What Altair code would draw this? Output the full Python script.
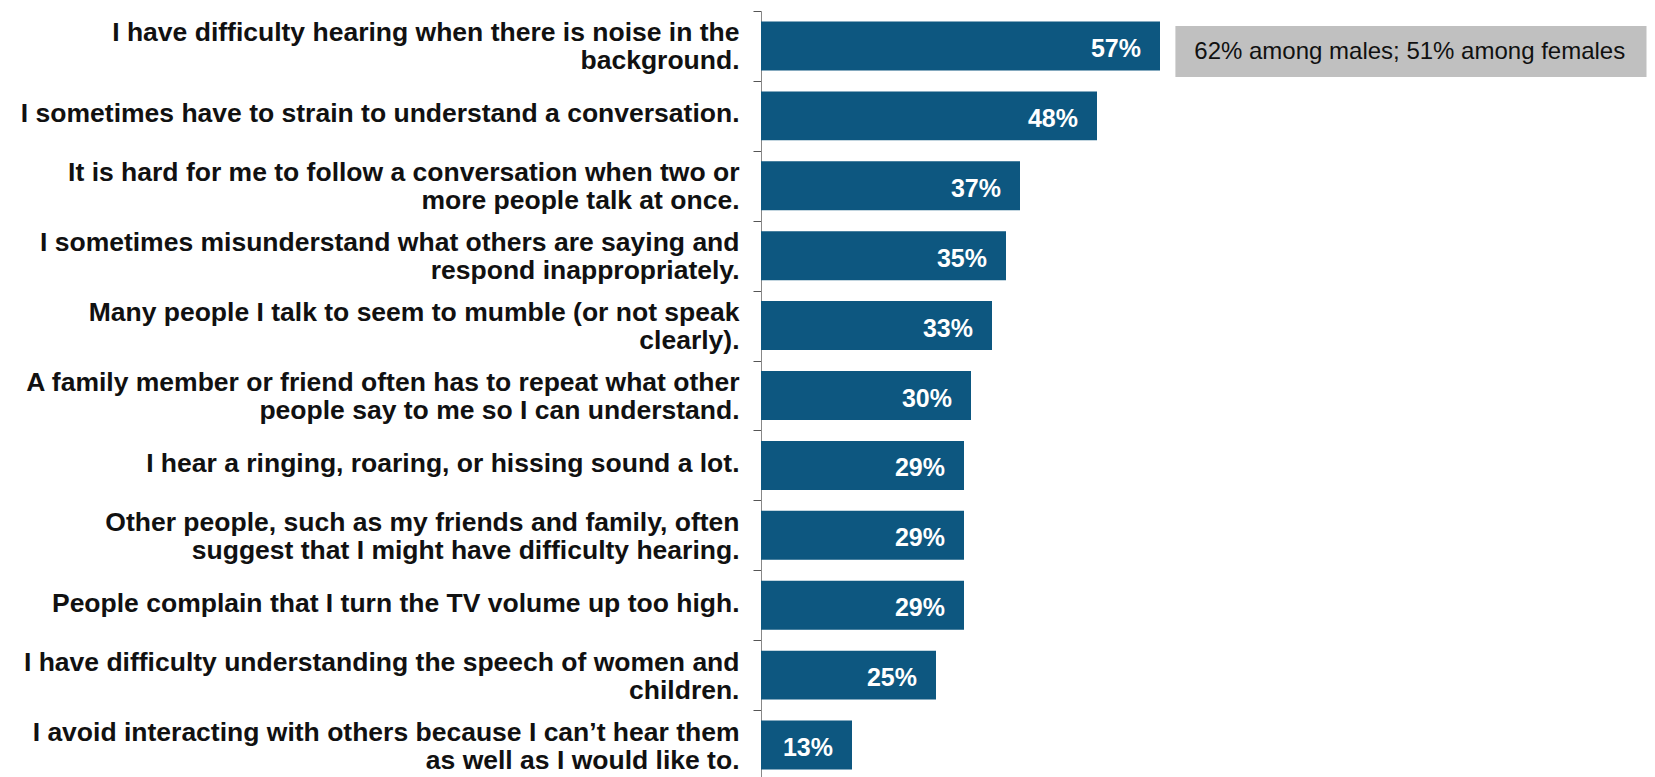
import altair as alt
import pandas as pd

categories = [
    "I have difficulty hearing when there is noise in the|background.",
    "I sometimes have to strain to understand a conversation.",
    "It is hard for me to follow a conversation when two or|more people talk at once.",
    "I sometimes misunderstand what others are saying and|respond inappropriately.",
    "Many people I talk to seem to mumble (or not speak|clearly).",
    "A family member or friend often has to repeat what other|people say to me so I can understand.",
    "I hear a ringing, roaring, or hissing sound a lot.",
    "Other people, such as my friends and family, often|suggest that I might have difficulty hearing.",
    "People complain that I turn the TV volume up too high.",
    "I have difficulty understanding the speech of women and|children.",
    "I avoid interacting with others because I can\u2019t hear them|as well as I would like to.",
]
values = [57, 48, 37, 35, 33, 30, 29, 29, 29, 25, 13]
value_labels = ["57%", "48%", "37%", "35%", "33%", "30%", "29%", "29%", "29%", "25%", "13%"]

note_category = [categories[0]]
note_text = ["62% among males; 51% among females"]

X_MAX = 126.5
PLOT_H = 769
STEP = PLOT_H / 11.0
LINE_H = 28

df = pd.DataFrame({"item": categories, "pct": values, "label": value_labels})
note_df = pd.DataFrame({"item": note_category, "text": note_text,
                        "start": [59.2], "end": [X_MAX], "tx": [61.9]})

FONT = "Liberation Sans"
BAR = "#0d5780"

y_enc = alt.Y(
    "item:N",
    sort=categories,
    scale=alt.Scale(paddingInner=0.3, paddingOuter=0.15),
    axis=alt.Axis(
        title=None,
        labelExpr="split(datum.label, '|')",
        labelFont=FONT,
        labelFontWeight="bold",
        labelFontSize=26.5,
        labelLineHeight=LINE_H,
        labelColor="#111111",
        labelPadding=14,
        labelLimit=1000,
        labelAlign="right",
        labelBaseline="middle",
        tickOffset=-STEP / 2,
        labelOffset={
            "condition": {"test": "indexof(datum.label, '|') >= 0",
                          "value": STEP / 2 - LINE_H / 2 + 1},
            "value": STEP / 2 - 2,
        },
        tickSize=8,
        tickColor="#555555",
        domainColor="#888888",
        grid=False,
    ),
)
x_scale = alt.Scale(domain=[0, X_MAX], nice=False)

bars = alt.Chart(df).mark_bar(color=BAR).encode(
    x=alt.X("pct:Q", scale=x_scale, axis=None),
    y=y_enc,
)

labels = alt.Chart(df).mark_text(
    align="right", baseline="middle", dx=-19, dy=3, color="white",
    font=FONT, fontWeight="bold", fontSize=25,
).encode(
    x=alt.X("pct:Q", scale=x_scale, axis=None),
    y=y_enc,
    text="label:N",
)

box = alt.Chart(note_df).mark_bar(color="#c0c0c0", height=51, yOffset=5.5).encode(
    x=alt.X("start:Q", scale=x_scale, axis=None),
    x2="end:Q",
    y=y_enc,
)

note = alt.Chart(note_df).mark_text(
    align="left", baseline="middle", dy=6, color="#111111",
    font=FONT, fontSize=24,
).encode(
    x=alt.X("tx:Q", scale=x_scale, axis=None),
    y=y_enc,
    text="text:N",
)

chart = alt.layer(bars, labels, box, note).properties(
    width=885.5,
    height=PLOT_H,
    padding={"left": 753, "top": 3, "right": 0, "bottom": 0},
    autosize=alt.AutoSizeParams(type="none"),
).configure_view(stroke=None)

chart.save("out.html", embed_options={"renderer": "svg", "actions": False})
